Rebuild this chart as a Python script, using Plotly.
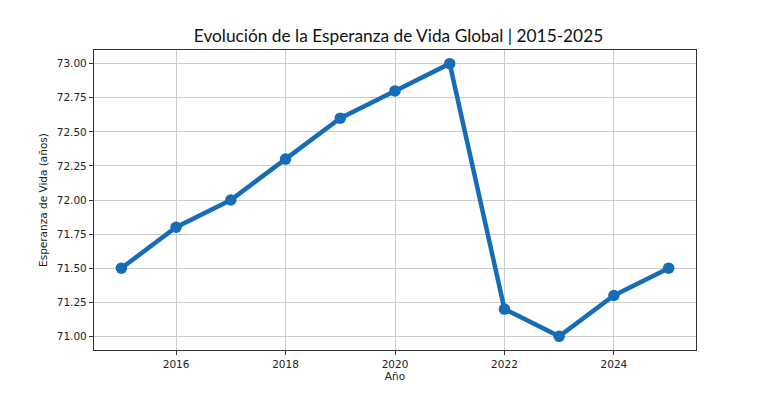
import plotly.graph_objects as go

years = [2015, 2016, 2017, 2018, 2019, 2020, 2021, 2022, 2023, 2024, 2025]
life_expectancy = [71.5, 71.8, 72.0, 72.3, 72.6, 72.8, 73.0, 71.2, 71.0, 71.3, 71.5]
x_ticks = [2016, 2018, 2020, 2022, 2024]
y_ticks = [71.0, 71.25, 71.5, 71.75, 72.0, 72.25, 72.5, 72.75, 73.0]

color = "#176cb8"

fig = go.Figure()
fig.add_trace(go.Scatter(
    x=years, y=life_expectancy, mode="lines+markers",
    line=dict(color=color, width=4.5),
    marker=dict(color=color, size=11.5),
    showlegend=False,
))

axis_common = dict(
    showline=True, linecolor="#333333", linewidth=1.2, mirror=True,
    showgrid=True, gridcolor="#cccccc", gridwidth=1,
    ticks="outside", ticklen=4, tickcolor="#333333",
    tickfont=dict(family="DejaVu Sans", size=10.5, color="#222222"),
    zeroline=False,
)

fig.update_layout(
    width=772, height=393,
    paper_bgcolor="white", plot_bgcolor="white",
    margin=dict(l=94, r=76, t=50, b=43),
    title=dict(
        text="Evolución de la Esperanza de Vida Global | 2015-2025",
        xref="container", x=398.5 / 772, xanchor="center",
        y=0.908, yanchor="middle",
        font=dict(family="Lato", size=17.3, color="#111111"),
    ),
    xaxis=dict(
        range=[2014.5, 2025.5], tickvals=x_ticks,
        ticktext=[str(t) for t in x_ticks],
        title=dict(text="Año", font=dict(family="DejaVu Sans", size=10.5, color="#222222"), standoff=3),
        **axis_common,
    ),
    yaxis=dict(
        range=[70.9, 73.1], tickvals=y_ticks,
        ticktext=[f"{v:.2f}" for v in y_ticks],
        title=dict(text="Esperanza de Vida (años)", font=dict(family="DejaVu Sans", size=10.5, color="#222222"), standoff=7),
        **axis_common,
    ),
)

fig.write_html(
    "out.html",
    config={"displayModeBar": False},
    post_script="document.body.style.margin='0';document.body.style.overflow='hidden';",
)
